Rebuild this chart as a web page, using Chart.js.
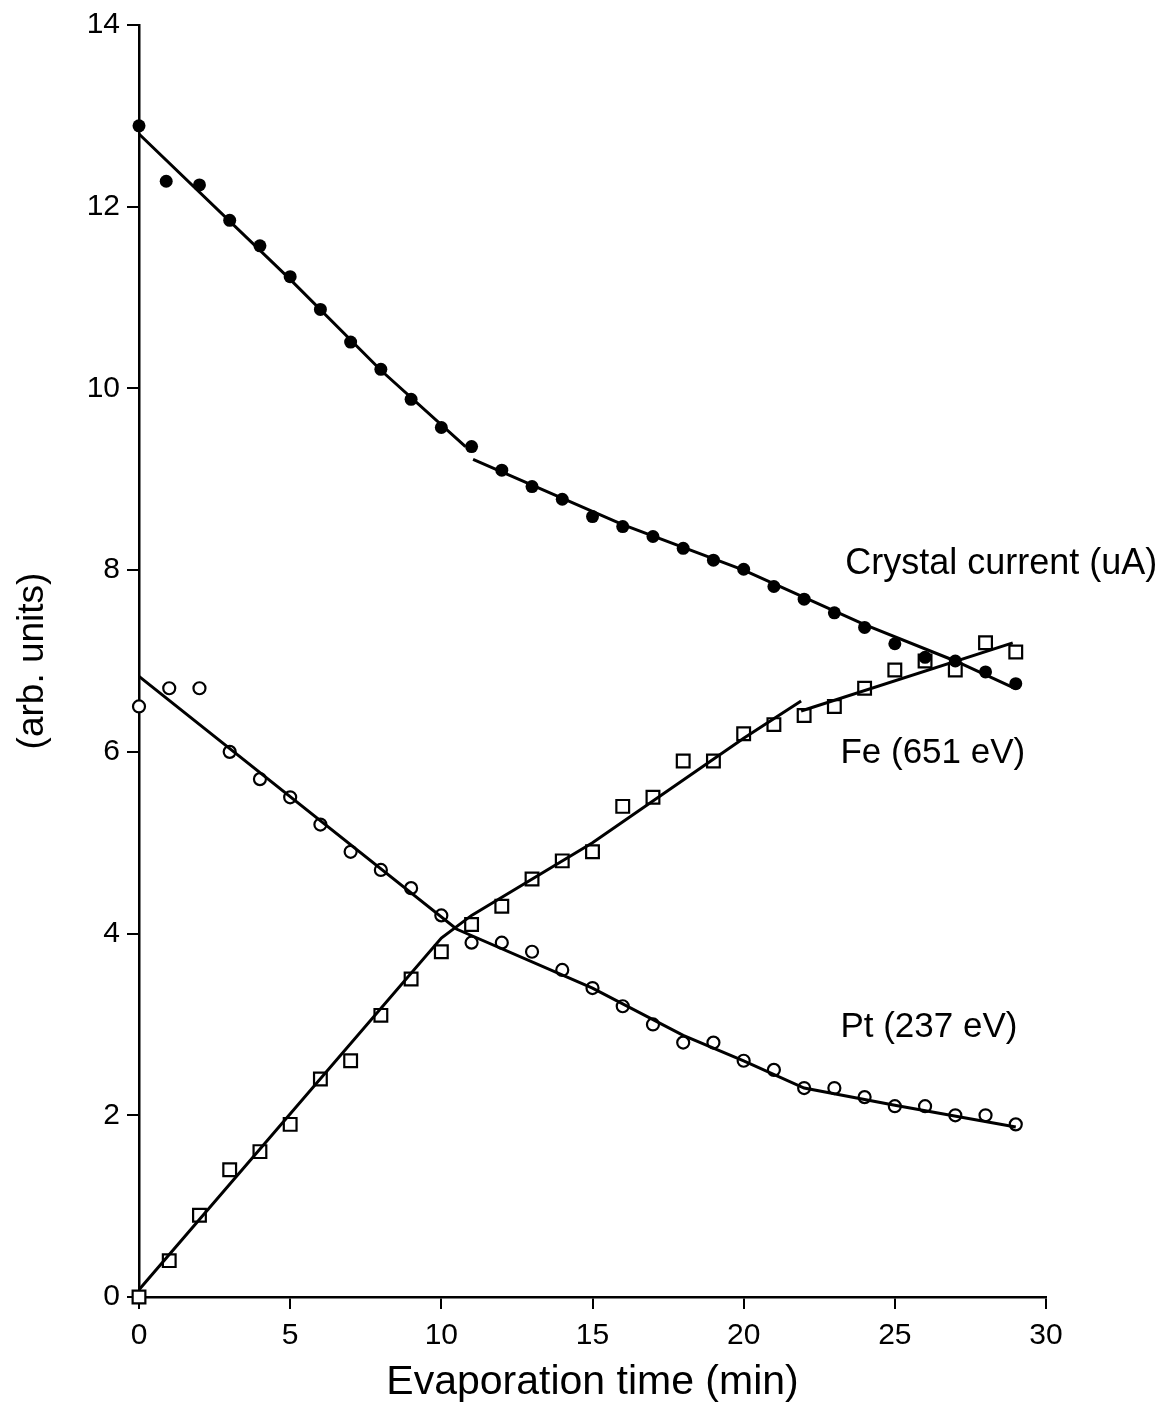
<!DOCTYPE html>
<html>
<head>
<meta charset="utf-8">
<script src="https://cdn.jsdelivr.net/npm/chart.js@4.4.1/dist/chart.umd.min.js"></script>
<style>
  html, body { margin: 0; padding: 0; background: #fff; }
  #wrap { width: 1176px; height: 1402px; position: relative; }
</style>
</head>
<body>
<div id="wrap"><canvas id="c"></canvas></div>
<script>
// ---- data ----
const times = [0,1,2,3,4,5,6,7,8,9,10,11,12,13,14,15,16,17,18,19,20,21,22,23,24,25,26,27,28,29];
const crystalX = [0,0.9,2,3,4,5,6,7,8,9,10,11,12,13,14,15,16,17,18,19,20,21,22,23,24,25,26,27,28,29];
const crystalY = [12.89,12.28,12.24,11.85,11.57,11.23,10.87,10.51,10.21,9.88,9.57,9.36,9.10,8.92,8.78,8.59,8.48,8.37,8.24,8.11,8.01,7.82,7.68,7.53,7.37,7.19,7.04,7.00,6.88,6.75];
const feY = [0.0,0.4,0.9,1.4,1.6,1.9,2.4,2.6,3.1,3.5,3.8,4.1,4.3,4.6,4.8,4.9,5.4,5.5,5.9,5.9,6.2,6.3,6.4,6.5,6.7,6.9,7.0,6.9,7.2,7.1];
const ptY = [6.5,6.7,6.7,6.0,5.7,5.5,5.2,4.9,4.7,4.5,4.2,3.9,3.9,3.8,3.6,3.4,3.2,3.0,2.8,2.8,2.6,2.5,2.3,2.3,2.2,2.1,2.1,2.0,2.0,1.9];

// fitted line segments (x, y)
const crystalFit1X = [0, 5, 8, 10.8];
const crystalFit1Y = [12.8, 11.2, 10.2, 9.36];
const crystalFit2X = [11.05, 16, 20, 24, 27, 28.9];
const crystalFit2Y = [9.22, 8.5, 8.0, 7.4, 7.0, 6.71];
const feFit1X = [0, 10, 11, 15, 20, 21.9];
const feFit1Y = [0.08, 3.95, 4.2, 5.0, 6.15, 6.56];
const feFit2X = [21.9, 28.9];
const feFit2Y = [6.45, 7.2];
const ptFitX = [0, 10.5, 15, 18, 20, 22, 25, 29];
const ptFitY = [6.83, 4.05, 3.4, 2.88, 2.6, 2.3, 2.11, 1.87];

const xTicks = [0,5,10,15,20,25,30];
const yTicks = [0,2,4,6,8,10,12,14];

const seriesLabels = ['Crystal current (uA)', 'Fe (651 eV)', 'Pt (237 eV)'];
const xTitle = 'Evaporation time (min)';
const yTitle = '(arb. units)';

// ---- helpers ----
const pts = (xs, ys) => xs.map((x, i) => ({x: x, y: ys[i]}));

const FONT = "'Liberation Sans', Arial, sans-serif";

const markerBase = { showLine: false, clip: false, borderColor: '#000', pointHoverRadius: 0 };
const lineBase = { showLine: true, pointRadius: 0, borderColor: '#000', borderWidth: 3, fill: false, tension: 0, clip: false };

const labelPos = [
  { x: 23.36, y: 8.07 },
  { x: 23.2, y: 5.98 },
  { x: 23.2, y: 2.97 }
];
const labelSizes = [36, 35, 35];

const seriesLabelPlugin = {
  id: 'seriesLabels',
  afterDraw(chart) {
    const ctx = chart.ctx;
    const xs = chart.scales.x, ys = chart.scales.y;
    ctx.save();
    ctx.fillStyle = '#000';
    ctx.textAlign = 'left';
    ctx.textBaseline = 'middle';
    seriesLabels.forEach((t, i) => {
      ctx.font = labelSizes[i] + 'px ' + FONT;
      ctx.fillText(t, xs.getPixelForValue(labelPos[i].x), ys.getPixelForValue(labelPos[i].y));
    });
    ctx.restore();
  }
};

new Chart(document.getElementById('c'), {
  type: 'scatter',
  data: {
    datasets: [
      Object.assign({}, lineBase, { data: pts(crystalFit1X, crystalFit1Y) }),
      Object.assign({}, lineBase, { data: pts(crystalFit2X, crystalFit2Y) }),
      Object.assign({}, lineBase, { data: pts(feFit1X, feFit1Y) }),
      Object.assign({}, lineBase, { data: pts(feFit2X, feFit2Y) }),
      Object.assign({}, lineBase, { data: pts(ptFitX, ptFitY) }),
      Object.assign({}, markerBase, { label: seriesLabels[0], data: pts(crystalX, crystalY),
        pointStyle: 'circle', pointRadius: 6.5, pointBackgroundColor: '#000', pointBorderWidth: 0 }),
      Object.assign({}, markerBase, { label: seriesLabels[1], data: pts(times, feY),
        pointStyle: 'rect', pointRadius: 9, pointBackgroundColor: '#fff', pointBorderWidth: 2.2 }),
      Object.assign({}, markerBase, { label: seriesLabels[2], data: pts(times, ptY),
        pointStyle: 'circle', pointRadius: 6, pointBackgroundColor: '#fff', pointBorderWidth: 2.2 })
    ]
  },
  options: {
    responsive: true,
    maintainAspectRatio: false,
    animation: false,
    events: [],
    layout: { padding: { top: 24, right: 130, left: 0, bottom: 0 } },
    plugins: { legend: { display: false }, tooltip: { enabled: false } },
    scales: {
      x: {
        type: 'linear', min: 0, max: 30,
        afterBuildTicks: (s) => { s.ticks = xTicks.map(v => ({ value: v })); },
        afterFit: (s) => { s.height = 105; },
        border: { display: true, color: '#000', width: 2.5 },
        grid: { display: true, drawOnChartArea: false, drawTicks: true, tickLength: 12, color: '#000', lineWidth: 2 },
        ticks: { color: '#000', font: { family: FONT, size: 30 }, padding: 9, maxRotation: 0 },
        title: { display: true, text: xTitle, color: '#000', font: { family: FONT, size: 41 }, padding: { top: 0, bottom: -5 } }
      },
      y: {
        type: 'linear', min: 0, max: 14,
        afterBuildTicks: (s) => { s.ticks = yTicks.map(v => ({ value: v })); },
        afterFit: (s) => { s.width = 139; },
        border: { display: true, color: '#000', width: 2.5 },
        grid: { display: true, drawOnChartArea: false, drawTicks: true, tickLength: 12, color: '#000', lineWidth: 2 },
        ticks: { color: '#000', font: { family: FONT, size: 30 }, padding: 7 },
        title: { display: true, text: yTitle, color: '#000', font: { family: FONT, size: 37 }, padding: { top: 11, bottom: 0 } }
      }
    }
  },
  plugins: [seriesLabelPlugin]
});
</script>
</body>
</html>
